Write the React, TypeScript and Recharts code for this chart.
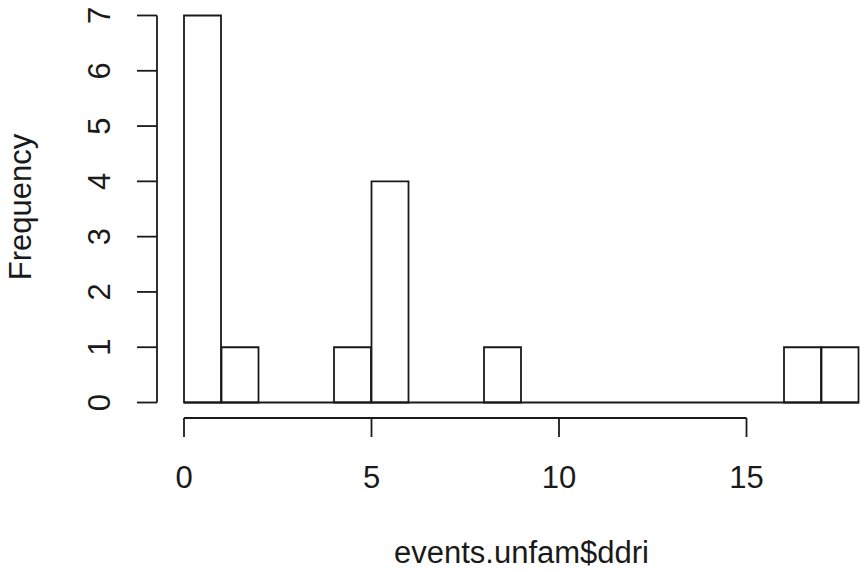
import React from "react";
import { BarChart, Bar, XAxis, YAxis, ReferenceLine } from "recharts";

// histogram bins (left / right edges) and counts
const BIN_LEFT = [0, 1, 2, 3, 4, 5, 6, 7, 8, 9, 10, 11, 12, 13, 14, 15, 16, 17];
const BIN_RIGHT = [1, 2, 3, 4, 5, 6, 7, 8, 9, 10, 11, 12, 13, 14, 15, 16, 17, 18];
const COUNTS = [7, 1, 0, 0, 1, 4, 0, 0, 1, 0, 0, 0, 0, 0, 0, 0, 1, 1];

const X_TICKS = [0, 5, 10, 15];
const Y_TICKS = [0, 1, 2, 3, 4, 5, 6, 7];
const X_DOMAIN: [number, number] = [-0.72, 18.72];
const Y_DOMAIN: [number, number] = [-0.28, 7.28];

const X_TITLE = "events.unfam$ddri";
const Y_TITLE = "Frequency";

const INK = "#1a1a1a";
const FONT = "'Liberation Sans', Arial, sans-serif";
const FS = 31;

const data = BIN_LEFT.map((l, i) => ({
  mid: (l + BIN_RIGHT[i]) / 2,
  count: COUNTS[i],
}));

function XTick(props: any) {
  const { x, y, payload } = props;
  return (
    <text x={x} y={y + 49} textAnchor="middle" fontFamily={FONT} fontSize={FS} fill={INK}>
      {payload.value}
    </text>
  );
}

function YTick(props: any) {
  const { x, y, payload } = props;
  const cx = x - 25;
  return (
    <text
      x={cx}
      y={y}
      textAnchor="middle"
      transform={`rotate(-90, ${cx}, ${y})`}
      fontFamily={FONT}
      fontSize={FS}
      fill={INK}
    >
      {payload.value}
    </text>
  );
}

export default function App() {
  return (
    <div
      style={{
        position: "absolute",
        left: 0,
        top: 0,
        width: 860,
        height: 571,
        overflow: "hidden",
        background: "#fff",
      }}
    >
      <BarChart
        width={900}
        height={571}
        data={data}
        margin={{ top: 0, right: 14, bottom: 0, left: 0 }}
        barCategoryGap={0}
        barGap={0}
      >
        <XAxis
          dataKey="mid"
          type="number"
          domain={X_DOMAIN}
          ticks={X_TICKS}
          allowDataOverflow
          axisLine={false}
          tickSize={19}
          tickLine={{ stroke: INK, strokeWidth: 1.8 }}
          tick={<XTick />}
          height={153}
          interval={0}
          label={{
            content: (p: any) => {
              const vb = p.viewBox;
              return (
                <text
                  x={vb.x + vb.width / 2}
                  y={563}
                  textAnchor="middle"
                  fontFamily={FONT}
                  fontSize={FS}
                  fill={INK}
                >
                  {X_TITLE}
                </text>
              );
            },
          }}
        />
        <YAxis
          type="number"
          domain={Y_DOMAIN}
          ticks={Y_TICKS}
          allowDataOverflow
          axisLine={false}
          tickSize={20}
          tickLine={{ stroke: INK, strokeWidth: 1.8 }}
          tick={<YTick />}
          width={157}
          interval={0}
          label={{
            content: (p: any) => {
              const vb = p.viewBox;
              const cy = vb.y + vb.height / 2 - 2;
              return (
                <text
                  x={31}
                  y={cy}
                  textAnchor="middle"
                  transform={`rotate(-90, 31, ${cy})`}
                  fontFamily={FONT}
                  fontSize={FS}
                  fill={INK}
                >
                  {Y_TITLE}
                </text>
              );
            },
          }}
        />
        <Bar
          dataKey="count"
          fill="#ffffff"
          stroke={INK}
          strokeWidth={1.8}
          isAnimationActive={false}
        />
        {/* zero-height bins are drawn as a baseline, as R does */}
        <ReferenceLine
          segment={[
            { x: BIN_LEFT[0], y: 0 },
            { x: BIN_RIGHT[BIN_RIGHT.length - 1], y: 0 },
          ]}
          stroke={INK}
          strokeWidth={1.8}
          ifOverflow="visible"
        />
        {/* R style axis lines: only from first to last tick */}
        <ReferenceLine
          segment={[
            { x: X_TICKS[0], y: Y_DOMAIN[0] },
            { x: X_TICKS[X_TICKS.length - 1], y: Y_DOMAIN[0] },
          ]}
          stroke={INK}
          strokeWidth={1.8}
          ifOverflow="visible"
        />
        <ReferenceLine
          segment={[
            { x: X_DOMAIN[0], y: Y_TICKS[0] },
            { x: X_DOMAIN[0], y: Y_TICKS[Y_TICKS.length - 1] },
          ]}
          stroke={INK}
          strokeWidth={1.8}
          ifOverflow="visible"
        />
      </BarChart>
    </div>
  );
}
